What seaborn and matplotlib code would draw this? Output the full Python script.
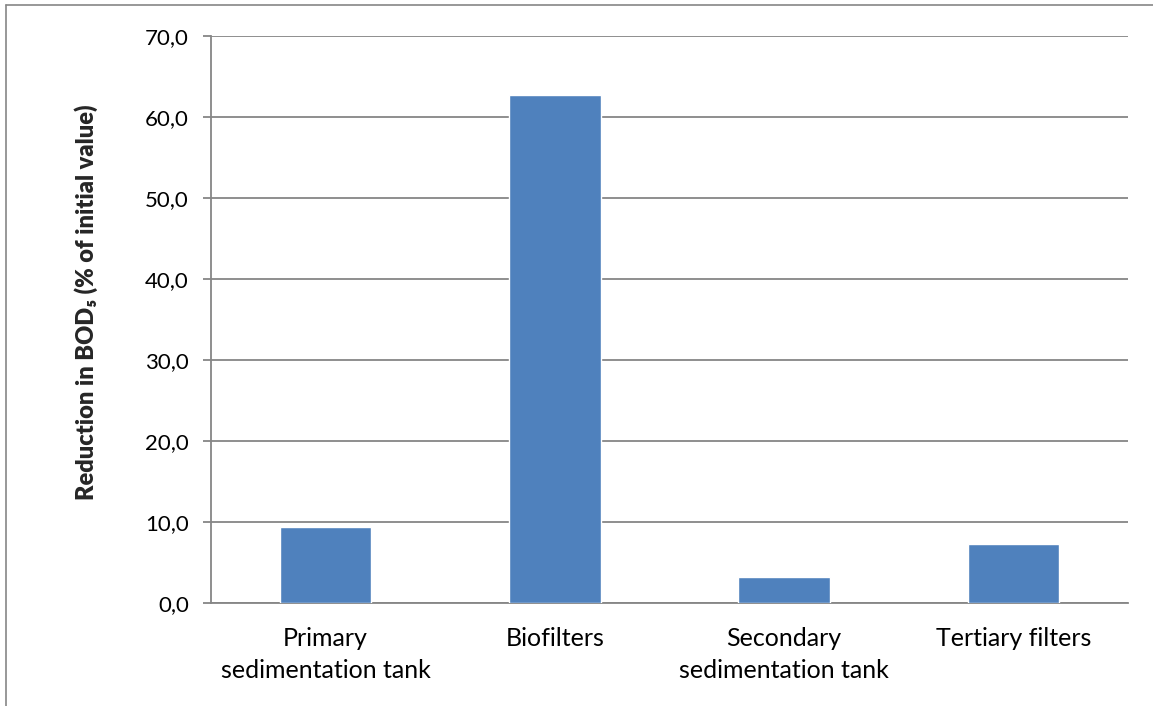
import matplotlib
matplotlib.use("Agg")
import matplotlib.pyplot as plt
from matplotlib.lines import Line2D
import seaborn as sns
import pandas as pd
import numpy as np

# BOD5 reduction per treatment stage
stages = ["Primary\nsedimentation tank", "Biofilters",
          "Secondary\nsedimentation tank", "Tertiary filters"]
reduction = [9.4, 62.7, 3.2, 7.3]
y_ticks = [0, 10, 20, 30, 40, 50, 60, 70]

sns.set_theme(style="white")
plt.rcParams["font.family"] = ["Lato", "DejaVu Sans"]

axis_grey = "#868686"
bar_blue = "#4f81bd"

fig = plt.figure(figsize=(11.53, 7.06), dpi=100)
ax = fig.add_axes([211 / 1153, 1 - 603 / 706, (1128 - 211) / 1153, (603 - 36) / 706])

df = pd.DataFrame({"stage": stages, "reduction": reduction})
sns.barplot(data=df, x="stage", y="reduction", color=bar_blue, saturation=1,
            width=0.4, ax=ax, zorder=3)

ax.set_ylim(0, 70)
ax.set_xlim(-0.5, len(stages) - 0.5)
ax.set_yticks(y_ticks)
ax.set_yticklabels([f"{v:.1f}".replace(".", ",") for v in y_ticks], fontsize=16, color="#000000")
ax.yaxis.grid(True, color=axis_grey, linewidth=1.3, zorder=0)
ax.set_axisbelow(True)

# category tick labels, with separator ticks between categories
ax.set_xticks(range(len(stages)))
ax.set_xticklabels(stages, fontsize=18, color="#000000", linespacing=1.5)
ax.tick_params(axis="x", which="major", length=0, pad=17)
ax.set_xticks(np.arange(-0.5, len(stages), 1.0), minor=True)
ax.tick_params(axis="x", which="minor", length=6, width=1.3, color=axis_grey, direction="out")
ax.tick_params(axis="y", length=6, width=1.3, color=axis_grey, direction="out", left=True, pad=10)

for side in ["top", "right"]:
    ax.spines[side].set_visible(False)
for side in ["left", "bottom"]:
    ax.spines[side].set_color(axis_grey)
    ax.spines[side].set_linewidth(1.3)

ax.set_xlabel("")
ax.set_ylabel("Reduction in BOD\u2085 (% of initial value)", fontsize=17,
              family=["Lato", "DejaVu Sans"], fontweight=800)
ax.yaxis.set_label_coords((98 - 211) / 917, 0.531)

# chart area frame (top and left edges)
fig.add_artist(Line2D([6 / 1153, 1.0], [1 - 5 / 706, 1 - 5 / 706],
                      transform=fig.transFigure, color=axis_grey, linewidth=1.2))
fig.add_artist(Line2D([6 / 1153, 6 / 1153], [0.0, 1 - 5 / 706],
                      transform=fig.transFigure, color=axis_grey, linewidth=1.2))

fig.savefig("out.png", dpi=100, facecolor="white")
